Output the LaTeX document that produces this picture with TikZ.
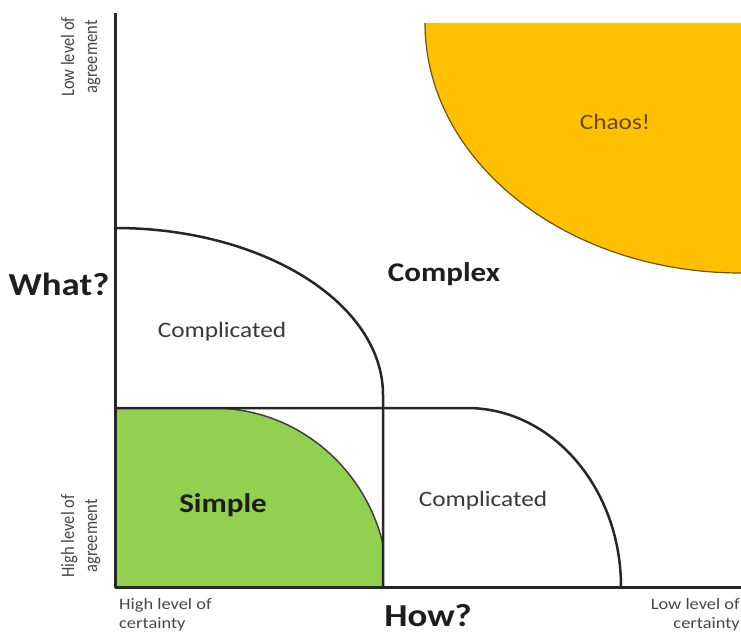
\documentclass[tikz,border=0pt]{standalone}
\usepackage{fontspec}
\setmainfont{Carlito}
\usepackage{graphicx}
\definecolor{chaosfill}{HTML}{FFC000}
\definecolor{chaosline}{HTML}{6E5414}
\definecolor{simplefill}{HTML}{92D050}
\definecolor{darktext}{HTML}{1E1E1E}
\definecolor{midtext}{HTML}{3A3A3A}
\definecolor{smalltext}{HTML}{474747}
\definecolor{chaostext}{HTML}{634A00}
\newcommand\hstr[1]{\scalebox{1.15}[1]{#1}}
\newcommand\vstr[1]{\scalebox{1}[1.15]{#1}}
\tikzset{
  axisline/.style={line width=3pt, black!85},
  regionline/.style={line width=2.5pt, black!85},
  bigbold/.style={inner sep=0pt, text=darktext, font=\fontsize{32}{38}\selectfont\bfseries},
  midbold/.style={inner sep=0pt, text=darktext, font=\fontsize{27}{32}\selectfont\bfseries},
  midlabel/.style={inner sep=0pt, text=midtext, font=\fontsize{22}{26}\selectfont},
  chaoslabel/.style={inner sep=0pt, text=chaostext, font=\fontsize{22}{26}\selectfont},
  smalllabel/.style={inner sep=0pt, text=smalltext, font=\fontsize{16}{19.5}\selectfont},
  rotlabel/.style={inner sep=0pt, text=smalltext, font=\fontsize{16.5}{20}\selectfont, rotate=90},
}
\begin{document}
\begin{tikzpicture}[x=1pt,y=-1pt,line join=round]
\useasboundingbox (0,0) rectangle (741,634);
\fill[white] (0,0) rectangle (741,634);
% Chaos region
\fill[chaosfill] (425,23) .. controls (425,161) and (566,273) .. (741,273) -- (741,23) -- cycle;
\draw[chaosline, line width=1.2pt] (425,23) .. controls (425,161) and (566,273) .. (741,273);
% Simple region
\begin{scope}
  \clip (115,408) rectangle (383,587);
  \fill[simplefill] (115,408) -- (213,408) .. controls (310,408) and (388,488) .. (388,587) -- (115,587) -- cycle;
  \draw[black!75, line width=1.5pt] (213,408) .. controls (310,408) and (388,488) .. (388,587);
\end{scope}
% Complicated boundaries
\draw[regionline] (115,228) .. controls (263,228) and (383,303) .. (383,395) -- (383,587);
\draw[regionline] (115,408) -- (467,408) .. controls (552,408) and (621,488) .. (621,587);
% Axes
\draw[axisline] (115,13) -- (115,587) -- (741,587);
% Labels
\node[bigbold, anchor=base] (what) at (59,295) {\hstr{What?}};
\node[bigbold, anchor=base] (how) at (428,626) {\hstr{How?}};
\node[midbold, anchor=base] (complex) at (444,281) {\hstr{Complex}};
\node[midbold, anchor=base] (simple) at (223,512) {\hstr{Simple}};
\node[midlabel, anchor=base] (compl1) at (222,337) {\hstr{Complicated}};
\node[midlabel, anchor=base] (compl2) at (483,506) {\hstr{Complicated}};
\node[chaoslabel, anchor=base] (chaos) at (615,129) {\hstr{Chaos!}};
\node[rotlabel] (lowagree) at (81,57) {\vstr{\begin{tabular}{@{}c@{}}Low level of\\agreement\end{tabular}}};
\node[rotlabel] (highagree) at (81,536) {\vstr{\begin{tabular}{@{}c@{}}High level of\\agreement\end{tabular}}};
\node[smalllabel, anchor=base west] (highcert) at (119,609) {\hstr{\begin{tabular}[t]{@{}l@{}}High level of\\certainty\end{tabular}}};
\node[smalllabel, anchor=base east] (lowcert) at (740,609) {\hstr{\begin{tabular}[t]{@{}r@{}}Low level of\\certainty\end{tabular}}};
\end{tikzpicture}
\end{document}
